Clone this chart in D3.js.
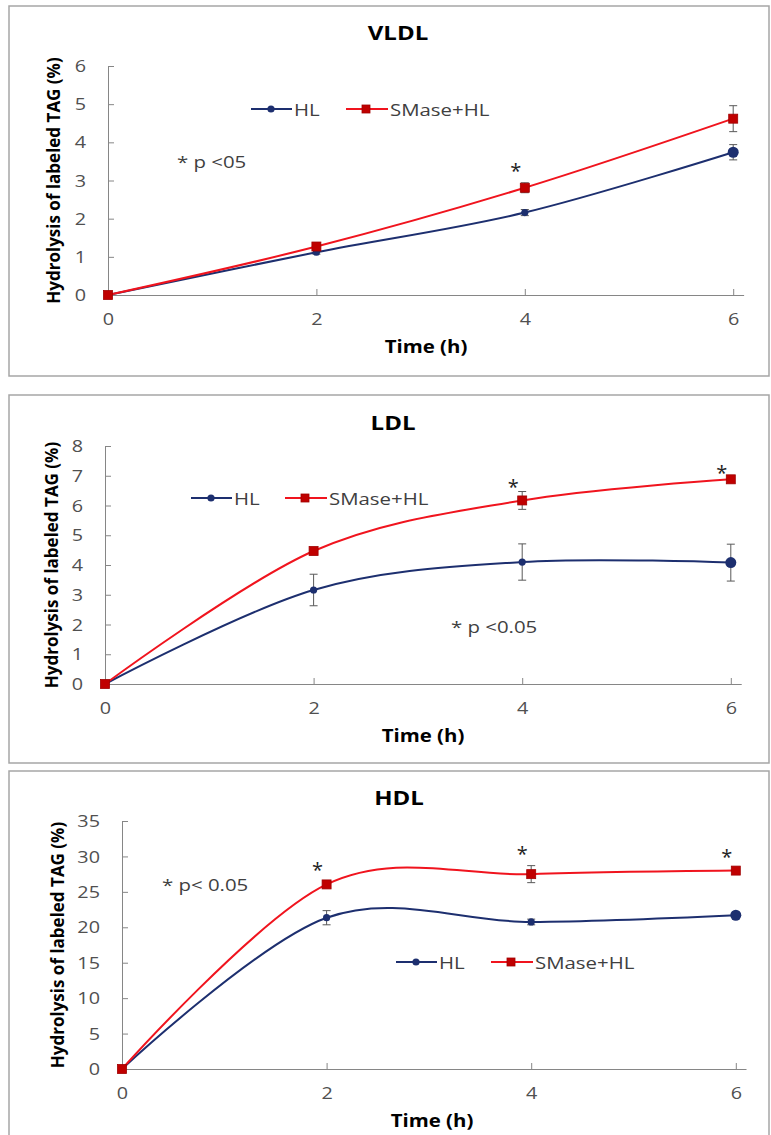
<!DOCTYPE html>
<head>
<meta charset="UTF-8">
<title>Hydrolysis of labeled TAG, HL vs SMase+HL</title>
<script src="https://cdnjs.cloudflare.com/ajax/libs/d3/7.8.5/d3.min.js"></script>
<style>
body { margin:0; background:#fff; }
text { font-family:"Open Sans", "Noto Sans", sans-serif; }
.frame { fill:none; stroke:#a6a6a6; stroke-width:1.5; }
.axis path, .axis line { stroke:#868686; stroke-width:1; }
.axis text { font-size:16.5px; fill:#505050; }
.title { font-size:20px; font-weight:bold; fill:#000; }
.axtitle { font-size:17px; font-weight:bold; fill:#000; }
.ytitle { font-size:17px; font-weight:bold; fill:#000; }
.leg, .note { font-size:17px; fill:#404040; }
.star { font-size:20px; fill:#222; }
.err { stroke:#595959; stroke-width:1; }
</style>
</head>
<body>
<div id="chart"></div>
<script>
var width = 771, height = 1135;
var SX = 1.2; // the source picture has horizontally stretched text

// ---- data ----
var hours = [0, 2, 4, 6];
var hourTicks = [0, 2, 4, 6];
var seriesNames = ["HL", "SMase+HL"];

var vldlHL = [0, 1.12, 2.16, 3.74];
var vldlHLErr = [0, 0.05, 0.08, 0.2];
var vldlSM = [0, 1.27, 2.81, 4.62];
var vldlSMErr = [0, 0.06, 0.13, 0.34];
var vldlStars = [4];
var vldlTicks = [0, 1, 2, 3, 4, 5, 6];

var ldlHL = [0, 3.16, 4.1, 4.08];
var ldlHLErr = [0, 0.53, 0.61, 0.62];
var ldlSM = [0, 4.47, 6.17, 6.88];
var ldlSMErr = [0, 0.05, 0.3, 0.05];
var ldlStars = [4, 6];
var ldlTicks = [0, 1, 2, 3, 4, 5, 6, 7, 8];

var hdlHL = [0, 21.35, 20.75, 21.7];
var hdlHLErr = [0, 1.0, 0.4, 0.2];
var hdlSM = [0, 26.05, 27.5, 28.0];
var hdlSMErr = [0, 0.35, 1.2, 0.2];
var hdlStars = [2, 4, 6];
var hdlTicks = [0, 5, 10, 15, 20, 25, 30, 35];

var yTitle = "Hydrolysis of labeled TAG (%)";
var xTitle = "Time (h)";

// ---- layout of each panel ----
var panels = [
  {title:"VLDL", hl:vldlHL, hlErr:vldlHLErr, sm:vldlSM, smErr:vldlSMErr, stars:vldlStars, ticks:vldlTicks,
   note:"* p <05", frame:[9,6,760,370], x0:108, pxH:104.2, yBot:295, yTop:66,
   titleXY:[398,32], xtXY:[426,346], ytX:53, leg:[251,346,109], noteXY:[177,161], starDy:-17},
  {title:"LDL", hl:ldlHL, hlErr:ldlHLErr, sm:ldlSM, smErr:ldlSMErr, stars:ldlStars, ticks:ldlTicks,
   note:"* p <0.05", frame:[9,395,760,368], x0:105, pxH:104.3, yBot:684, yTop:446,
   titleXY:[393,422], xtXY:[423,735], ytX:51, leg:[191,285,498], noteXY:[451,626], starDy:-10},
  {title:"HDL", hl:hdlHL, hlErr:hdlHLErr, sm:hdlSM, smErr:hdlSMErr, stars:hdlStars, ticks:hdlTicks,
   note:"* p< 0.05", frame:[9,771,760,380], x0:122, pxH:102.3, yBot:1069, yTop:821,
   titleXY:[399,797], xtXY:[432,1120], ytX:57, leg:[396,491,962], noteXY:[162,884], starDy:-17}
];

var blue = "#1d2f6f", red = "#f0141e", redMark = "#c00000";

var svg = d3.select("#chart").append("svg").attr("width", width).attr("height", height);
svg.append("rect").attr("width", width).attr("height", height).attr("fill", "#fff");

// stretched text helper
function txt(g, x, y, s, cls, anchor) {
  return g.append("text")
    .attr("transform", "translate(" + x + "," + y + ") scale(" + SX + ",1)")
    .attr("text-anchor", anchor || "start")
    .attr("dominant-baseline", "central")
    .attr("class", cls)
    .text(s);
}

function square(g, cx, cy, s) {
  g.append("rect").attr("x", cx - s/2).attr("y", cy - s/2).attr("width", s).attr("height", s)
    .attr("fill", redMark).attr("stroke", "#a00000").attr("stroke-width", 0.8);
}

panels.forEach(function(p) {
  var g = svg.append("g");
  var f = p.frame;
  g.append("rect").attr("class", "frame").attr("x", f[0]).attr("y", f[1]).attr("width", f[2]).attr("height", f[3]);

  var x = d3.scaleLinear().domain([0, 6.1]).range([p.x0, p.x0 + 6.1 * p.pxH]);
  var yMax = p.ticks[p.ticks.length - 1];
  var y = d3.scaleLinear().domain([0, yMax]).range([p.yBot, p.yTop]);

  // axes, ticks point inside like the excel chart
  var ya = g.append("g").attr("class", "axis").attr("transform", "translate(" + p.x0 + ",0)")
    .call(d3.axisLeft(y).tickValues(p.ticks).tickFormat(d3.format("d")).tickSizeInner(-6).tickSizeOuter(0));
  ya.selectAll(".tick text").attr("x", null).attr("dy", "0.34em")
    .attr("transform", "translate(-22,0) scale(" + SX + ",1)");

  var xa = g.append("g").attr("class", "axis").attr("transform", "translate(0," + p.yBot + ")")
    .call(d3.axisBottom(x).tickValues(hourTicks).tickFormat(d3.format("d")).tickSizeInner(-6).tickSizeOuter(0));
  xa.selectAll(".tick text").attr("y", null).attr("dy", "0.34em")
    .attr("transform", "translate(0,24) scale(" + SX + ",1)");

  txt(g, p.titleXY[0], p.titleXY[1], p.title, "title", "middle");
  txt(g, p.xtXY[0], p.xtXY[1], xTitle, "axtitle", "middle");
  g.append("text").attr("class", "ytitle")
    .attr("transform", "translate(" + p.ytX + "," + ((p.yBot + p.yTop) / 2) + ") rotate(-90)")
    .attr("text-anchor", "middle").attr("dominant-baseline", "central")
    .text(yTitle);

  var line = d3.line().x(function(d, i) { return x(hours[i]); }).y(function(d) { return y(d); })
    .curve(d3.curveCardinal.tension(0));

  // error bars
  [[p.hl, p.hlErr], [p.sm, p.smErr]].forEach(function(s) {
    s[0].forEach(function(v, i) {
      var e = s[1][i];
      if (!e) return;
      var cx = x(hours[i]);
      g.append("line").attr("class", "err").attr("x1", cx).attr("x2", cx).attr("y1", y(v - e)).attr("y2", y(v + e));
      g.append("line").attr("class", "err").attr("x1", cx - 4).attr("x2", cx + 4).attr("y1", y(v - e)).attr("y2", y(v - e));
      g.append("line").attr("class", "err").attr("x1", cx - 4).attr("x2", cx + 4).attr("y1", y(v + e)).attr("y2", y(v + e));
    });
  });

  g.append("path").attr("d", line(p.hl)).attr("fill", "none").attr("stroke", blue).attr("stroke-width", 2);
  g.append("path").attr("d", line(p.sm)).attr("fill", "none").attr("stroke", red).attr("stroke-width", 2);

  p.hl.forEach(function(v, i) {
    g.append("circle").attr("cx", x(hours[i])).attr("cy", y(v))
      .attr("r", i === p.hl.length - 1 ? 5.5 : 3.6).attr("fill", blue);
  });
  p.sm.forEach(function(v, i) { square(g, x(hours[i]), y(v), 9); });

  // significance stars
  p.stars.forEach(function(h) {
    var i = hours.indexOf(h);
    var sy = y(p.sm[i] + p.smErr[i]) + p.starDy;
    g.append("text").attr("class", "star").attr("x", x(h) - 9).attr("y", sy + 12)
      .attr("text-anchor", "middle").text("*");
  });

  txt(g, p.noteXY[0], p.noteXY[1], p.note, "note", "start");

  // legend
  var lx = p.leg[0], sx = p.leg[1], ly = p.leg[2];
  g.append("line").attr("x1", lx).attr("x2", lx + 41).attr("y1", ly).attr("y2", ly).attr("stroke", blue).attr("stroke-width", 2);
  g.append("circle").attr("cx", lx + 20).attr("cy", ly).attr("r", 3.6).attr("fill", blue);
  txt(g, lx + 43, ly, seriesNames[0], "leg", "start");
  g.append("line").attr("x1", sx).attr("x2", sx + 42).attr("y1", ly).attr("y2", ly).attr("stroke", red).attr("stroke-width", 2);
  square(g, sx + 20, ly, 8);
  txt(g, sx + 44, ly, seriesNames[1], "leg", "start");
});
</script>
</body>
</html>
